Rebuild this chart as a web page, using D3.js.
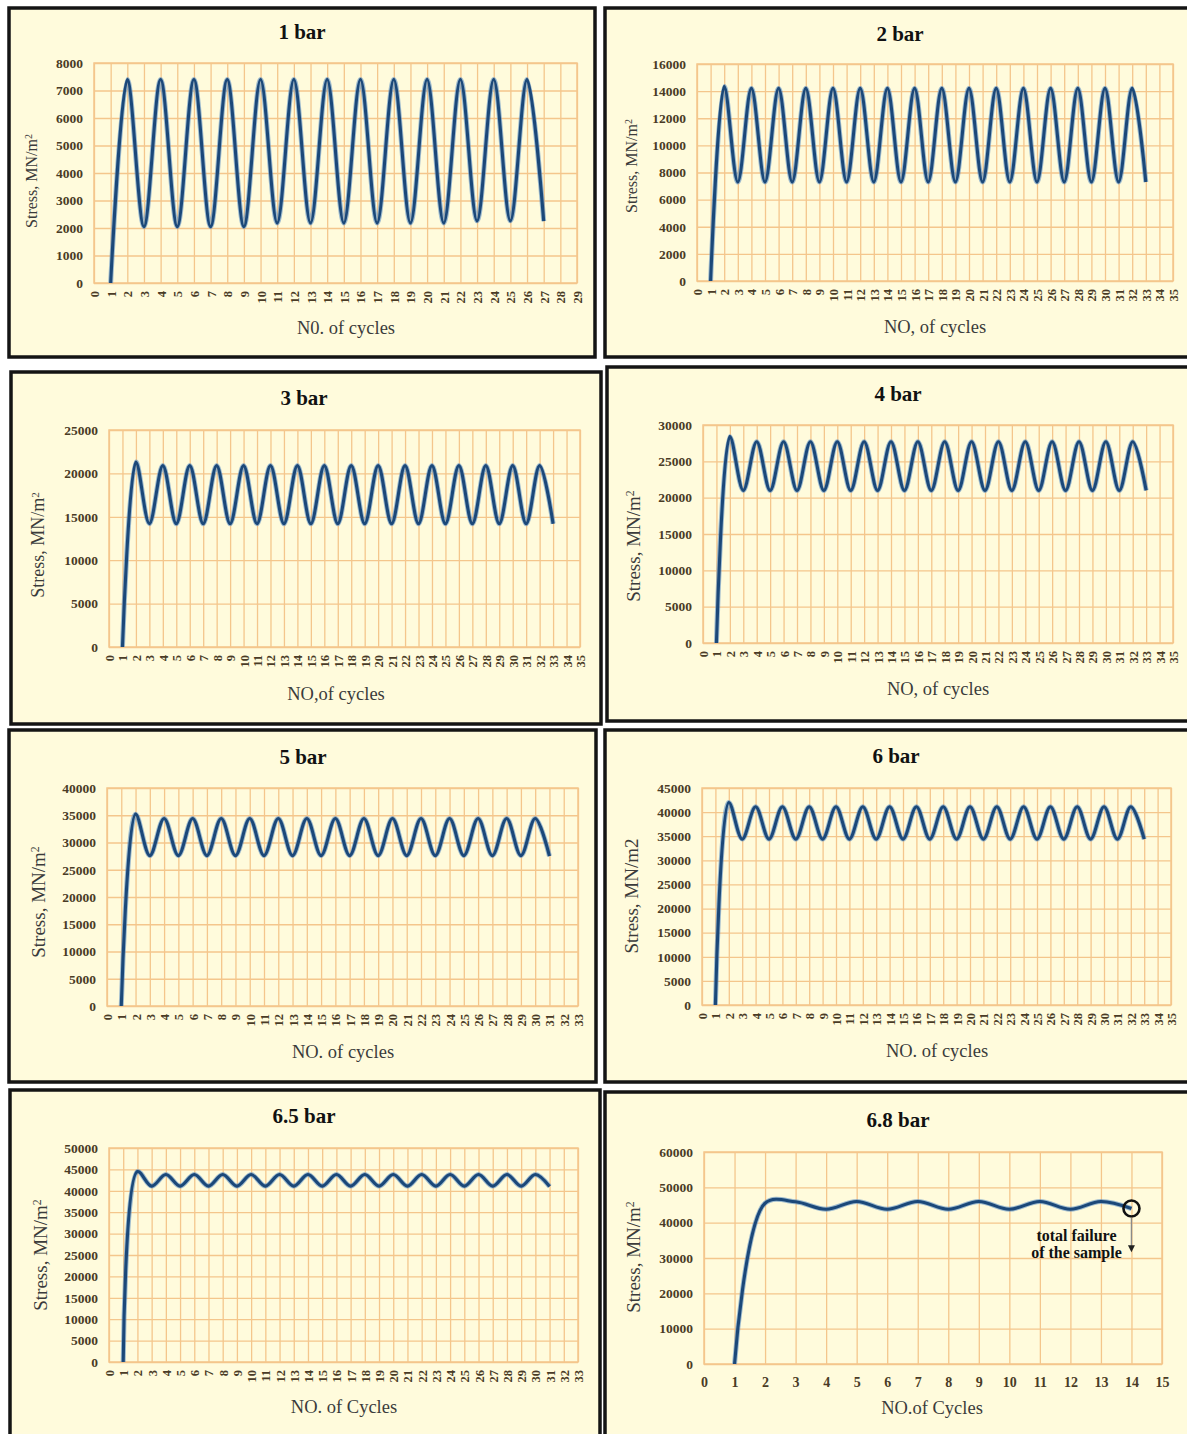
<!DOCTYPE html>
<html>
<head>
<meta charset="utf-8">
<script src="https://cdn.jsdelivr.net/npm/d3@7"></script>
<style>
  html, body { margin: 0; padding: 0; background: #ffffff; }
  svg { display: block; }
  text { font-family: "Liberation Serif", "Times New Roman", serif; }
</style>
</head>
<body>
<svg id="chart" width="1187" height="1434"></svg>
<script>
// ---------- data ----------
const titles  = ["1 bar", "2 bar", "3 bar", "4 bar", "5 bar", "6 bar", "6.5 bar", "6.8 bar"];
const xTitles = ["N0. of cycles", "NO, of cycles", "NO,of cycles", "NO, of cycles",
                 "NO. of cycles", "NO. of cycles", "NO. of Cycles", "NO.of Cycles"];
const yTitles = ["Stress, MN/m", "Stress, MN/m", "Stress, MN/m", "Stress, MN/m",
                 "Stress, MN/m", "Stress, MN/m2", "Stress, MN/m", "Stress, MN/m"];
const ySup    = ["2", "2", "2", "2", "2", "", "2", "2"];

const xMax  = [29, 35, 35, 35, 33, 35, 33, 15];
const yMax  = [8000, 16000, 25000, 30000, 40000, 45000, 50000, 60000];
const yStep = [1000, 2000, 5000, 5000, 5000, 5000, 5000, 10000];

const firstCycle = 1;   // every record starts at cycle 1

// stress per cycle, cycle 1 first
const stress1 = [0, 7400,
                 2050, 7400, 2050, 7400, 2050, 7400, 2050, 7400, 2180, 7400,   // 3-12
                 2180, 7400, 2180, 7400, 2180, 7400, 2180, 7400, 2180, 7400,   // 13-22
                 2260, 7400, 2260, 7400,                                       // 23-26
                 2250];                                                        // 27
const stress2 = [0, 14350,
                 7300, 14200, 7300, 14200, 7300, 14200, 7300, 14200, 7300, 14200,   // 3-12
                 7300, 14200, 7300, 14200, 7300, 14200, 7300, 14200, 7300, 14200,   // 13-22
                 7300, 14200, 7300, 14200, 7300, 14200, 7300, 14200, 7300, 14200,   // 23-32
                 7300];                                                             // 33
const stress3 = [0, 21300,
                 14200, 20900, 14200, 20900, 14200, 20900, 14200, 20900, 14200, 20900,
                 14200, 20900, 14200, 20900, 14200, 20900, 14200, 20900, 14200, 20900,
                 14200, 20900, 14200, 20900, 14200, 20900, 14200, 20900, 14200, 20900,
                 14200];
const stress4 = [0, 28400,
                 21000, 27700, 21000, 27700, 21000, 27700, 21000, 27700, 21000, 27700,
                 21000, 27700, 21000, 27700, 21000, 27700, 21000, 27700, 21000, 27700,
                 21000, 27700, 21000, 27700, 21000, 27700, 21000, 27700, 21000, 27700,
                 21000];
const stress5 = [0, 35200,
                 27600, 34400, 27600, 34400, 27600, 34400, 27600, 34400, 27600, 34400,   // 3-12
                 27600, 34400, 27600, 34400, 27600, 34400, 27600, 34400, 27600, 34400,   // 13-22
                 27600, 34400, 27600, 34400, 27600, 34400, 27600, 34400,                 // 23-30
                 27500];                                                                 // 31
const stress6 = [0, 42000,
                 34400, 41100, 34400, 41100, 34400, 41100, 34400, 41100, 34400, 41100,
                 34400, 41100, 34400, 41100, 34400, 41100, 34400, 41100, 34400, 41100,
                 34400, 41100, 34400, 41100, 34400, 41100, 34400, 41100, 34400, 41100,
                 34400];
const stress7 = [0, 44500,
                 41100, 43800, 41100, 43800, 41100, 43800, 41100, 43800, 41100, 43800,   // 3-12
                 41100, 43800, 41100, 43800, 41100, 43800, 41100, 43800, 41100, 43800,   // 13-22
                 41100, 43800, 41100, 43800, 41100, 43800, 41100, 43800,                 // 23-30
                 41000];                                                                 // 31
const stress8 = [0, 45500, 45900, 43800, 46000, 43800, 46000, 43800, 46000, 43800,
                 46000, 43800, 46000, 44000];

const failureNote = ["total failure", "of the sample"];

const series = [stress1, stress2, stress3, stress4, stress5, stress6, stress7, stress8];

// ---------- layout (frame, plot area, text anchors) ----------
const layout = [
  { frame: [9, 8, 595, 357],       plot: [94, 577, 63, 283],      title: [302, 39],   xt: [346, 334],  yt: [31, 181, 16],  rot: true },
  { frame: [605, 8, 1192, 357],    plot: [697, 1173, 64, 281],    title: [900, 41],   xt: [935, 333],  yt: [631, 166, 16], rot: true },
  { frame: [11, 372, 601, 724],    plot: [109, 580, 430, 647],    title: [304, 405],  xt: [336, 700],  yt: [38, 545, 18],  rot: true },
  { frame: [607, 367, 1192, 721],  plot: [703, 1173, 425, 643],   title: [898, 401],  xt: [938, 695],  yt: [633, 546, 19], rot: true },
  { frame: [9, 730, 596, 1082],    plot: [107, 578, 788, 1006],   title: [303, 764],  xt: [343, 1058], yt: [38, 902, 19],  rot: true },
  { frame: [605, 730, 1192, 1082], plot: [702, 1171, 788, 1005],  title: [896, 763],  xt: [937, 1057], yt: [631, 896, 19], rot: true },
  { frame: [10, 1090, 600, 1445],  plot: [109, 578, 1148, 1362],  title: [304, 1123], xt: [344, 1413], yt: [40, 1255, 19], rot: true },
  { frame: [605, 1092, 1192, 1445],plot: [704, 1162, 1152, 1364], title: [898, 1127], xt: [932, 1414], yt: [633, 1257, 19], rot: false }
];

const cream = "#fffbdc";
const grid = "#f4c68c";
const tickColor = "#4a3b26";
const lineColor = "#1b4879";

const svg = d3.select("#chart");

series.forEach((values, i) => {
  const L = layout[i];
  const g = svg.append("g");
  const [fx0, fy0, fx1, fy1] = L.frame;
  const [pl, pr, pt, pb] = L.plot;

  // panel frame
  g.append("rect")
    .attr("x", fx0).attr("y", fy0)
    .attr("width", fx1 - fx0).attr("height", fy1 - fy0)
    .attr("fill", cream)
    .attr("stroke", "#141414").attr("stroke-width", 3.5);

  const x = d3.scaleLinear().domain([0, xMax[i]]).range([pl, pr]);
  const y = d3.scaleLinear().domain([0, yMax[i]]).range([pb, pt]);

  // horizontal grid + value labels
  const ya = g.append("g")
    .attr("transform", `translate(${pl},0)`)
    .call(d3.axisLeft(y)
      .tickValues(d3.range(0, yMax[i] + 1, yStep[i]))
      .tickSize(-(pr - pl))
      .tickPadding(11)
      .tickFormat(d3.format("d")));
  ya.select(".domain").remove();
  ya.selectAll("line").attr("stroke", grid).attr("stroke-width", 1.3);
  ya.selectAll("text")
    .attr("fill", tickColor)
    .style("font-size", "13.5px")
    .style("font-weight", "bold");

  // vertical grid + cycle labels
  const xa = g.append("g")
    .attr("transform", `translate(0,${pb})`)
    .call(d3.axisBottom(x)
      .tickValues(d3.range(0, xMax[i] + 1))
      .tickSize(-(pb - pt))
      .tickPadding(L.rot ? 8 : 13));
  xa.select(".domain").remove();
  xa.selectAll("line").attr("stroke", grid).attr("stroke-width", 1.3);
  const xt = xa.selectAll("text").attr("fill", tickColor).style("font-weight", "bold");
  if (L.rot) {
    xt.attr("transform", "rotate(-90)")
      .attr("x", -8).attr("y", 0).attr("dy", "0.36em")
      .attr("text-anchor", "end")
      .style("font-size", "12.5px");
  } else {
    xt.style("font-size", "14px");
  }

  // plot-area border
  g.append("rect")
    .attr("x", pl).attr("y", pt)
    .attr("width", pr - pl).attr("height", pb - pt)
    .attr("fill", "none")
    .attr("stroke", grid).attr("stroke-width", 1.5);

  // stress curve
  const pts = values.map((s, k) => ({ c: firstCycle + k, s }));
  const line = d3.line()
    .x(d => x(d.c))
    .y(d => y(d.s))
    .curve(d3.curveCatmullRom.alpha(0.5));
  g.append("path").datum(pts)
    .attr("d", line)
    .attr("fill", "none")
    .attr("stroke", "#4f86c2").attr("stroke-opacity", 0.55)
    .attr("stroke-width", 5)
    .attr("stroke-linejoin", "round");
  g.append("path").datum(pts)
    .attr("d", line)
    .attr("fill", "none")
    .attr("stroke", lineColor)
    .attr("stroke-width", 3.1)
    .attr("stroke-linejoin", "round");

  // titles
  g.append("text")
    .attr("x", L.title[0]).attr("y", L.title[1])
    .attr("text-anchor", "middle")
    .style("font-size", "21px").style("font-weight", "bold")
    .attr("fill", "#111")
    .text(titles[i]);

  g.append("text")
    .attr("x", L.xt[0]).attr("y", L.xt[1])
    .attr("text-anchor", "middle")
    .style("font-size", "18.5px")
    .attr("fill", "#3b3b3b")
    .text(xTitles[i]);

  const yt = g.append("text")
    .attr("transform", `translate(${L.yt[0]},${L.yt[1]}) rotate(-90)`)
    .attr("text-anchor", "middle")
    .attr("dy", "0.35em")
    .style("font-size", L.yt[2] + "px")
    .attr("fill", "#3b3b3b");
  yt.append("tspan").text(yTitles[i]);
  if (ySup[i]) {
    yt.append("tspan").attr("dy", "-0.45em").style("font-size", "0.62em").text(ySup[i]);
  }

  // failure marker on the last record
  if (i === series.length - 1) {
    const last = pts[pts.length - 1];
    const cx = x(last.c), cy = y(last.s);
    const r = 8;
    g.append("circle")
      .attr("cx", cx).attr("cy", cy).attr("r", r)
      .attr("fill", "none").attr("stroke", "#111").attr("stroke-width", 2.6);
    const tipY = y(31600);
    g.append("line")
      .attr("x1", cx).attr("x2", cx)
      .attr("y1", cy + r + 1).attr("y2", tipY - 6)
      .attr("stroke", "#8a8a8a").attr("stroke-width", 1.4);
    g.append("path")
      .attr("d", `M${cx - 3.5},${tipY - 7} L${cx + 3.5},${tipY - 7} L${cx},${tipY} Z`)
      .attr("fill", "#222");
    const note = g.append("text")
      .attr("text-anchor", "middle")
      .style("font-size", "16px").style("font-weight", "bold")
      .attr("fill", "#111");
    note.append("tspan").attr("x", cx - 55).attr("y", y(34800)).text(failureNote[0]);
    note.append("tspan").attr("x", cx - 55).attr("y", y(30000)).text(failureNote[1]);
  }
});
</script>
</body>
</html>
